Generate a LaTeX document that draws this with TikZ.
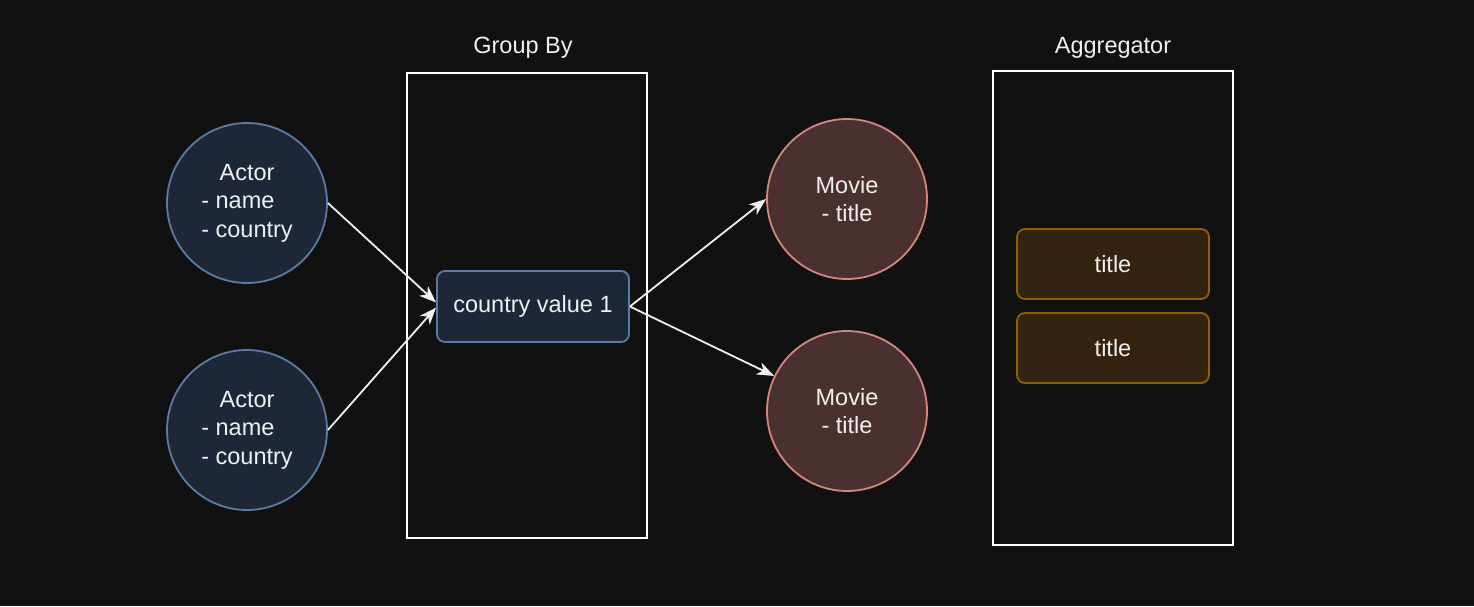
\documentclass[tikz,border=0pt]{standalone}
\usepackage{fontspec}
\usepackage{calc}
\setmainfont{Liberation Sans}
\usetikzlibrary{arrows.meta}
\definecolor{bg}{HTML}{111111}
\definecolor{actfill}{HTML}{1E2738}
\definecolor{actline}{HTML}{5B7AA5}
\definecolor{movfill}{HTML}{4B3030}
\definecolor{movline}{HTML}{D4877F}
\definecolor{ttlfill}{HTML}{34240F}
\definecolor{ttlline}{HTML}{8F5F0A}
\definecolor{txt}{HTML}{F0F0F0}
\tikzset{
  every node/.style={text=txt, font=\fontsize{23.5}{28.5}\selectfont},
  frame/.style={draw=white, line width=1.8pt, fill=none},
  actor/.style={circle, draw=actline, fill=actfill, line width=1.8pt, minimum size=160pt, inner sep=0pt, align=center},
  movie/.style={circle, draw=movline, fill=movfill, line width=1.8pt, minimum size=160pt, inner sep=0pt, align=center},
  groupbox/.style={rectangle, rounded corners=8pt, draw=actline, fill=actfill, line width=1.8pt, minimum width=192pt, minimum height=71pt, inner sep=0pt},
  titlebox/.style={rectangle, rounded corners=8pt, draw=ttlline, fill=ttlfill, line width=1.8pt, minimum width=192pt, minimum height=70pt, inner sep=0pt},
  conn/.style={draw=txt, line width=1.8pt, -{Stealth[length=17pt, width=13pt, inset=5pt]}},
  caption/.style={}
}
\begin{document}
\begin{tikzpicture}[x=1pt, y=-1pt]
\fill[bg] (0,0) rectangle (1474,606);
\useasboundingbox (0,0) rectangle (1474,606);
\node[frame, rectangle, minimum width=240pt, minimum height=465pt, inner sep=0pt] (gb) at (527,305.5) {};
\node[frame, rectangle, minimum width=240pt, minimum height=474pt, inner sep=0pt] (ag) at (1113,308) {};
\node[caption] (gbl) at (523,48) {Group By};
\node[caption] (agl) at (1113,48) {Aggregator};
\node[actor] (a1) at (247,203) {Actor\\\makebox[\widthof{- country}][l]{- name}\\- country};
\node[actor] (a2) at (247,430) {Actor\\\makebox[\widthof{- country}][l]{- name}\\- country};
\node[groupbox] (cv) at (533,306.5) {country value 1};
\node[movie] (m1) at (847,199) {Movie\\- title};
\node[movie] (m2) at (847,411) {Movie\\- title};
\node[titlebox] (t1) at (1113,264) {title};
\node[titlebox] (t2) at (1113,348) {title};
\draw[conn] (a1.east) -- ([yshift=4pt]cv.west);
\draw[conn] (a2.east) -- ([yshift=-1pt]cv.west);
\draw[conn] (cv.east) -- (m1.west);
\draw[conn] (cv.east) -- (m2);
\end{tikzpicture}
\end{document}
